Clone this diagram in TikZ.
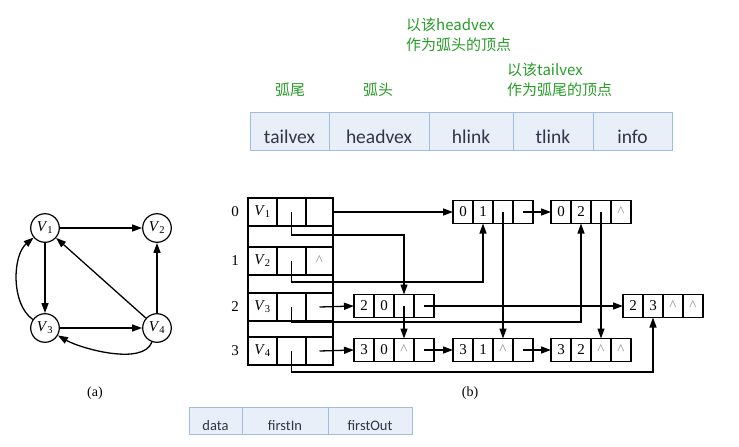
\documentclass[tikz,border=0pt]{standalone}
\usepackage{fontspec}
\setmainfont{Liberation Serif}
\newfontfamily\cjkfont{Noto Sans CJK SC}
\newfontfamily\tabfont{Carlito}
\usetikzlibrary{positioning,arrows.meta}
\definecolor{tabfill}{RGB}{233,239,248}
\definecolor{tabline}{RGB}{160,188,224}
\definecolor{tabtext}{RGB}{45,55,70}
\definecolor{notegreen}{RGB}{40,155,40}
\definecolor{caretgray}{RGB}{140,140,140}

\tikzset{
  fieldbox/.style={draw=tabline,fill=tabfill,line width=1pt,minimum height=38pt,inner sep=0pt,outer sep=0pt,
    text=tabtext,font=\tabfont\fontsize{19.5}{22}\selectfont,text height=24pt,text depth=0pt},
  vfield/.style={draw=tabline,fill=tabfill,line width=1pt,minimum height=27pt,inner sep=0pt,outer sep=0pt,
    text=tabtext,font=\tabfont\fontsize{14.5}{17}\selectfont,text height=19pt,text depth=0pt},
  note/.style={text=notegreen,font=\cjkfont\fontsize{15}{20}\selectfont,align=left,inner sep=0pt},
  vcell/.style={draw,line width=1.2pt,minimum height=28pt,inner sep=0pt,outer sep=0pt,font=\fontsize{15}{18}\selectfont},
  arccell/.style={draw,line width=1.2pt,minimum width=20pt,minimum height=23pt,inner sep=0pt,outer sep=0pt,font=\fontsize{15}{18}\selectfont},
  vert/.style={circle,draw,line width=1.2pt,minimum size=28.6pt,inner sep=0pt,font=\fontsize{15}{18}\selectfont},
  ptr/.style={-{Triangle[length=10pt,width=7pt]},line width=1.3pt},
}

\newcommand{\emptylink}{\textcolor{caretgray}{\textasciicircum}}
\newcommand{\vrow}[4]{%
  \node[font=\fontsize{15}{18}\selectfont] (r#1) at (235,#2) {#1};
  \node[vcell,minimum width=29pt] (v#1-1) at (262.5,#2) {\textit{V}\textsubscript{#3}};
  \node[vcell,minimum width=29pt,right=0pt of v#1-1] (v#1-2) {};
  \node[vcell,minimum width=27pt,right=0pt of v#1-2] (v#1-3) {#4};}
\newcommand{\arcbox}[7]{%
  \node[arccell] (#1-1) at (#2,#3) {#4};
  \node[arccell,right=0pt of #1-1] (#1-2) {#5};
  \node[arccell,right=0pt of #1-2] (#1-3) {#6};
  \node[arccell,right=0pt of #1-3] (#1-4) {#7};}

\begin{document}
\begin{tikzpicture}[x=1pt,y=-1pt]
\useasboundingbox (0,0) rectangle (739,447);

% arc record
\node[note] (headnote) at (378,90) {弧头};
\node[note] (tailnote) at (290,90) {弧尾};
\node[note,anchor=west] (hnote) at (406,35) {以该headvex\\作为弧头的顶点};
\node[note,anchor=west] (tnote) at (507,80) {以该tailvex\\作为弧尾的顶点};
\node[fieldbox,minimum width=79pt] (f1) at (289.5,131) {tailvex};
\node[fieldbox,minimum width=100pt,right=0pt of f1] (f2) {headvex};
\node[fieldbox,minimum width=84pt,right=0pt of f2] (f3) {hlink};
\node[fieldbox,minimum width=80pt,right=0pt of f3] (f4) {tlink};
\node[fieldbox,minimum width=79pt,right=0pt of f4] (f5) {info};

% vertex record
\node[vfield,minimum width=53pt] (d1) at (215.5,420.5) {data};
\node[vfield,minimum width=86pt,right=0pt of d1] (d2) {firstIn};
\node[vfield,minimum width=84pt,right=0pt of d2] (d3) {firstOut};

% (a)
\node[vert] (V1) at (45,228) {\textit{V}\textsubscript{1}};
\node[vert] (V2) at (157,228) {\textit{V}\textsubscript{2}};
\node[vert] (V3) at (45,328) {\textit{V}\textsubscript{3}};
\node[vert] (V4) at (157,328) {\textit{V}\textsubscript{4}};
\draw[ptr] (V1) -- (V2);
\draw[ptr] (V1) -- (V3);
\draw[ptr] (V3) -- (V4);
\draw[ptr] (V4) -- (V2);
\draw[ptr] (V4) -- (V1);
\draw[ptr] (V3) to[out=145,in=220,looseness=0.85] (V1);
\draw[ptr] (V4) to[out=250,in=330,looseness=0.7] (V3);
\node[font=\fontsize{14}{17}\selectfont] (capa) at (95,393) {(a)};

% (b)
\node[draw,line width=1.2pt,minimum width=85pt,minimum height=167pt,outer sep=0pt] (vtab) at (290.5,281.5) {};
\vrow{0}{212}{1}{}
\vrow{1}{261}{2}{\emptylink}
\vrow{2}{307}{3}{}
\vrow{3}{351}{4}{}
\arcbox{a01}{463}{212}{0}{1}{}{}
\arcbox{a02}{561}{212}{0}{2}{}{\emptylink}
\arcbox{a20}{364}{306}{2}{0}{}{}
\arcbox{a23}{633}{306}{2}{3}{\emptylink}{\emptylink}
\arcbox{a30}{364}{350}{3}{0}{\emptylink}{}
\arcbox{a31}{463}{350}{3}{1}{\emptylink}{}
\arcbox{a32}{561}{350}{3}{2}{\emptylink}{\emptylink}

\draw[ptr] (v0-3.east) -- (a01-1.west);
\draw[ptr] (v0-2.center) -- ++(0,23) -| (a20-3.north);
\draw[ptr] (v1-2.center) -- ++(0,21) -| (a01-2.south);
\draw[ptr] (v2-3.center) -- (a20-1.west);
\draw[ptr] (v2-2.center) -- ++(0,15) -| (a02-2.south);
\draw[ptr] (v3-3.center) -- (a30-1.west);
\draw[ptr] (v3-2.center) -- ++(0,21) -| (a23-2.south);
\draw[ptr] (a01-3.center) -- (a31-3.north);
\draw[ptr] (a01-4.center) -- (a02-1.west);
\draw[ptr] (a02-3.center) -- (a32-3.north);
\draw[ptr] (a20-3.center) -- (a30-3.north);
\draw[ptr] (a20-4.center) -- (a23-1.west);
\draw[ptr] (a30-4.center) -- (a31-1.west);
\draw[ptr] (a31-4.center) -- (a32-1.west);
\node[font=\fontsize{14}{17}\selectfont] (capb) at (470,393) {(b)};
\end{tikzpicture}
\end{document}
